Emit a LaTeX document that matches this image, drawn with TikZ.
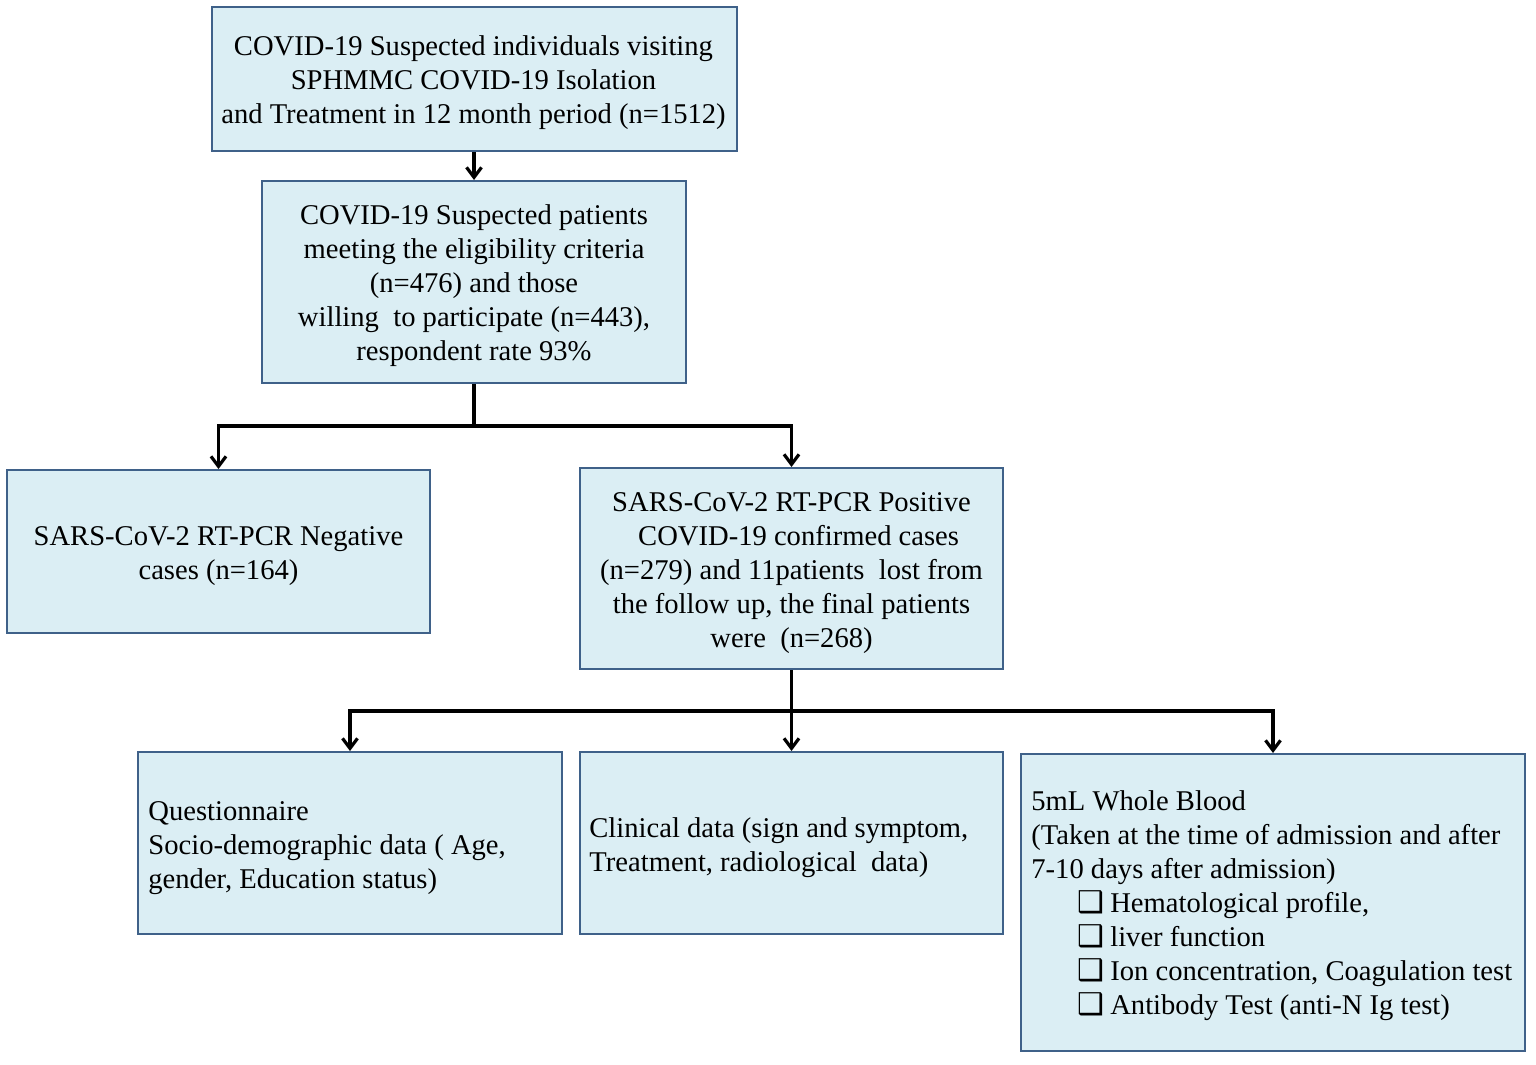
\documentclass[tikz,border=0pt]{standalone}
\usepackage{fontspec}
\setmainfont{Liberation Serif}
\newfontfamily\dejavu{DejaVu Sans}
\usetikzlibrary{arrows.meta}
\definecolor{boxfill}{HTML}{DBEEF4}
\definecolor{boxline}{HTML}{3F6189}
\newcommand{\cbx}{\hspace*{23pt}{\dejavu\fontsize{15}{17}\selectfont ❑}\hspace{3pt}}
\begin{document}
\begin{tikzpicture}[x=0.5pt,y=-0.5pt,
  box/.style={draw=boxline,line width=1pt,fill=boxfill,inner sep=0pt},
  txt/.style={inner sep=0pt,font=\fontsize{14.3}{17}\selectfont,align=center},
  ltxt/.style={txt,align=left,anchor=west},
  conn/.style={line width=1.6pt,black},
  arr/.style={conn,-{Straight Barb[length=5pt,width=7.5pt,line width=1.6pt]}}]
\useasboundingbox (0,0) rectangle (1536,1065);
\node[box,minimum width=262.5pt,minimum height=72pt] (b1) at (474,79) {};
\node[txt] (t1) at (473.5,83)
  {COVID-19 Suspected individuals visiting\\SPHMMC COVID-19 Isolation\\and Treatment in 12 month period (n=1512)};
\node[box,minimum width=212pt,minimum height=101pt] (b2) at (474,282) {};
\node[txt] (t2) at (474,286)
  {COVID-19 Suspected patients\\meeting the eligibility criteria\\(n=476) and those\\willing\ \ to participate (n=443),\\respondent rate 93\%};
\node[box,minimum width=211.5pt,minimum height=81.5pt] (b3) at (218.5,551.5) {};
\node[txt] (t3) at (218.5,556.5)
  {SARS-CoV-2 RT-PCR Negative\\cases (n=164)};
\node[box,minimum width=211.5pt,minimum height=100.5pt] (b4) at (791.5,568.5) {};
\node[txt] (t4) at (791.5,573.5)
  {SARS-CoV-2 RT-PCR Positive\\\ \ COVID-19 confirmed cases\\(n=279) and 11patients\ \ lost from\\the follow up, the final patients\\were\ \ (n=268)};
\node[box,minimum width=212pt,minimum height=91pt] (b5) at (350,843) {};
\node[ltxt] (t5) at (148,848)
  {Questionnaire\\Socio-demographic data ( Age,\\gender, Education status)};
\node[box,minimum width=211.5pt,minimum height=91pt] (b6) at (791.5,843) {};
\node[ltxt] (t6) at (589,848)
  {Clinical data (sign and symptom,\\Treatment, radiological\ \ data)};
\node[box,minimum width=252pt,minimum height=148.5pt] (b7) at (1273,902.5) {};
\node[ltxt] (t7) at (1031,906)
  {5mL Whole Blood\\(Taken at the time of admission and after\\7-10 days after admission)\\
  \cbx Hematological profile,\\\cbx liver function\\\cbx Ion concentration, Coagulation test\\\cbx Antibody Test (anti-N Ig test)};
\coordinate (j1) at (474,426);
\coordinate (j2) at (791.5,711);
\draw[arr] (b1.south) -- (b2.north);
\draw[conn] (b2.south) -- (j1);
\draw[arr] (j1) -| (b3.north);
\draw[arr] (j1) -| (b4.north);
\draw[conn] (b4.south) -- (j2);
\draw[arr] (j2) -| (b5.north);
\draw[arr] (j2) -- (b6.north);
\draw[arr] (j2) -| (b7.north);
\end{tikzpicture}
\end{document}
